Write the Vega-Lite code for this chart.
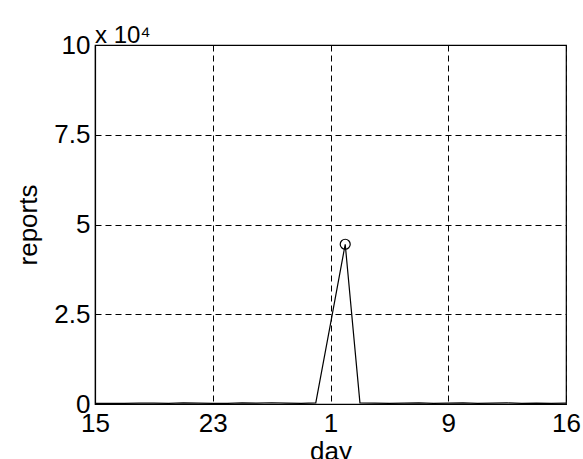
{
  "$schema": "https://vega.github.io/schema/vega-lite/v6.json",
  "width": 471,
  "height": 359,
  "autosize": {"type": "none"},
  "padding": {"left": 95, "top": 45, "right": 17, "bottom": 55},
  "background": "white",
  "config": {
    "font": "Liberation Sans",
    "view": {"stroke": "black", "strokeWidth": 1.2},
    "axis": {
      "domainColor": "black",
      "domainWidth": 1.2,
      "ticks": false,
      "grid": true,
      "gridColor": "black",
      "gridDash": [6, 4],
      "gridWidth": 1,
      "gridOpacity": 1,
      "labelFont": "Liberation Sans",
      "labelFontSize": 26,
      "labelColor": "black",
      "titleFont": "Liberation Sans",
      "titleFontSize": 26,
      "titleFontWeight": "normal",
      "titleColor": "black"
    }
  },
  "title": {
    "text": "x 10⁴",
    "anchor": "start",
    "frame": "group",
    "baseline": "alphabetic",
    "offset": 3,
    "dy": 38,
    "fontSize": 24,
    "fontWeight": "normal",
    "font": "Liberation Sans",
    "color": "black"
  },
  "data": {
    "values": [
      {"day": 0, "reports": 150},
      {"day": 1, "reports": 200},
      {"day": 2, "reports": 180},
      {"day": 3, "reports": 220},
      {"day": 4, "reports": 250},
      {"day": 5, "reports": 200},
      {"day": 6, "reports": 300},
      {"day": 7, "reports": 250},
      {"day": 8, "reports": 150},
      {"day": 9, "reports": 200},
      {"day": 10, "reports": 300},
      {"day": 11, "reports": 250},
      {"day": 12, "reports": 350},
      {"day": 13, "reports": 250},
      {"day": 14, "reports": 200},
      {"day": 15, "reports": 300},
      {"day": 16, "reports": 22300},
      {"day": 17, "reports": 44500},
      {"day": 18, "reports": 300},
      {"day": 19, "reports": 250},
      {"day": 20, "reports": 200},
      {"day": 21, "reports": 250},
      {"day": 22, "reports": 300},
      {"day": 23, "reports": 200},
      {"day": 24, "reports": 250},
      {"day": 25, "reports": 300},
      {"day": 26, "reports": 200},
      {"day": 27, "reports": 250},
      {"day": 28, "reports": 300},
      {"day": 29, "reports": 200},
      {"day": 30, "reports": 250},
      {"day": 31, "reports": 200},
      {"day": 32, "reports": 250}
    ]
  },
  "encoding": {
    "x": {
      "field": "day",
      "type": "quantitative",
      "scale": {"domain": [0, 32], "nice": false, "zero": false},
      "axis": {
        "values": [0, 8, 16, 24, 32],
        "labelExpr": "datum.value == 0 ? '15' : datum.value == 8 ? '23' : datum.value == 16 ? '1' : datum.value == 24 ? '9' : '16'",
        "labelPadding": 6,
        "labelFlush": false,
        "title": "day",
        "titlePadding": 2
      }
    },
    "y": {
      "field": "reports",
      "type": "quantitative",
      "scale": {"domain": [0, 100000], "nice": false},
      "axis": {
        "values": [0, 25000, 50000, 75000, 100000],
        "labelExpr": "format(datum.value / 10000, '')",
        "labelPadding": 5,
        "labelFlush": false,
        "title": "reports",
        "titlePadding": 12
      }
    }
  },
  "layer": [
    {
      "mark": {"type": "line", "color": "black", "strokeWidth": 1.2}
    },
    {
      "transform": [{"filter": "datum.reports > 40000"}],
      "mark": {"type": "point", "shape": "circle", "filled": false, "color": "black", "size": 100, "strokeWidth": 1.2, "opacity": 1}
    }
  ]
}
